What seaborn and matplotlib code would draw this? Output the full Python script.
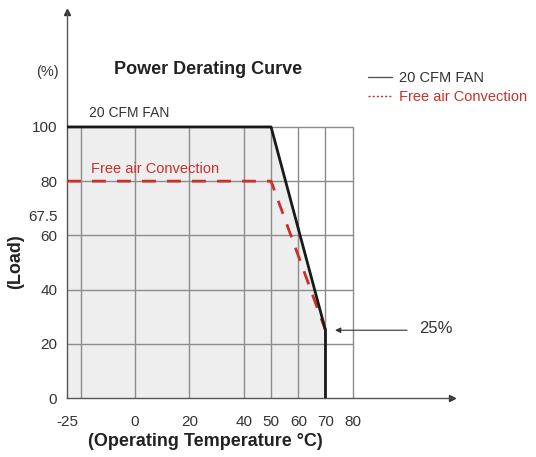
import matplotlib
matplotlib.use("Agg")
import matplotlib.pyplot as plt
from matplotlib.lines import Line2D
import seaborn as sns
import pandas as pd

# data
temp_fan = [-25, 50, 70, 70]
load_fan = [100, 100, 25, 0]
temp_free = [-25, 50, 70]
load_free = [80, 80, 25]
x_ticks = [-25, 0, 20, 40, 50, 60, 70, 80]
x_grid = [-20, 0, 20, 40, 50, 60, 70, 80]
y_ticks = [0, 20, 40, 60, 67.5, 80, 100]
y_grid = [20, 40, 60, 80, 100]

sns.set_style("white")
plt.rcParams["font.family"] = ["Liberation Sans", "DejaVu Sans"]

red = "#c9302c"
txt = "#333333"

fig = plt.figure(figsize=(5.36, 4.57), dpi=100)
ax = fig.add_axes([67 / 536, 59 / 457, 385 / 536, 386 / 457])
ax.set_xlim(-25, 116.5)
ax.set_ylim(0, 142.4)

# shaded area under fan curve
ax.fill_between(temp_fan[:3], load_fan[:3], 0, color="#eeeeee", zorder=0)

# grid box limited to -25..80 / 0..100
for gx in x_grid:
    ax.plot([gx, gx], [0, 100], color="#8c8c8c", lw=1, zorder=1)
for gy in y_grid:
    ax.plot([-25, 80], [gy, gy], color="#8c8c8c", lw=1, zorder=1)

df_fan = pd.DataFrame({"temp": temp_fan, "load": load_fan})
df_free = pd.DataFrame({"temp": temp_free, "load": load_free})
sns.lineplot(data=df_free, x="temp", y="load", sort=False, estimator=None,
             color=red, lw=2, dashes=False, ax=ax, zorder=3)
ax.lines[-1].set_dashes([5, 4])
sns.lineplot(data=df_fan, x="temp", y="load", sort=False, estimator=None,
             color="#1a1a1a", lw=2, ax=ax, zorder=4)

# axes with arrows
for s in ["top", "right"]:
    ax.spines[s].set_visible(False)
for s in ["left", "bottom"]:
    ax.spines[s].set_color("#555555")
    ax.spines[s].set_linewidth(1)
ax.plot(1, 0, ">", color="#333333", ms=4, transform=ax.get_yaxis_transform(), clip_on=False)
ax.plot(-25, 1, "^", color="#333333", ms=4, transform=ax.get_xaxis_transform(), clip_on=False)

ax.set_xticks(x_ticks)
ax.set_xticklabels([str(t) for t in x_ticks])
ax.set_yticks(y_ticks)
ax.set_yticklabels(["0", "20", "40", "60", "67.5", "80", "100"])
ax.tick_params(length=0, labelsize=11, labelcolor=txt)
ax.tick_params(axis="x", pad=12)
ax.tick_params(axis="y", pad=7)
ax.set_xlabel("")
ax.set_ylabel("")

fig.text(205 / 536, 1 - 441 / 457, "(Operating Temperature °C)", ha="center", va="center",
         fontsize=13, fontweight="bold", color="#222222")
fig.text(16 / 536, 1 - 262 / 457, "(Load)", rotation=90, ha="center", va="center",
         fontsize=13, fontweight="bold", color="#222222")
fig.text(47 / 536, 1 - 72 / 457, "(%)", ha="center", va="center", fontsize=10.5, color=txt)
fig.text(208 / 536, 1 - 70 / 457, "Power Derating Curve", ha="center", va="center",
         fontsize=13, fontweight="bold", color="#222222")

ax.text(-17, 102.5, "20 CFM FAN", fontsize=10, color=txt, va="bottom")
ax.text(-16, 81.8, "Free air Convection", fontsize=10.5, color=red, va="bottom")

ax.annotate("", xy=(72.5, 25), xytext=(101, 25),
            arrowprops=dict(arrowstyle="-|>", color="#333333", lw=0.8, mutation_scale=8))
ax.text(104.5, 25.5, "25%", fontsize=12, color=txt, va="center")

handles = [Line2D([], [], color="#555555", lw=1),
           Line2D([], [], color=red, lw=1, ls=(0, (1.5, 1.5)))]
fig.legend(handles, ["20 CFM FAN", "Free air Convection"], loc="upper left",
           bbox_to_anchor=(361 / 536, 1 - 64 / 457), frameon=False, fontsize=10.5,
           handlelength=1.6, handletextpad=0.5, labelspacing=0.35, borderpad=0)
leg_texts = fig.legends[0].get_texts()
leg_texts[0].set_color(txt)
leg_texts[1].set_color(red)

fig.savefig("out.png", dpi=100)
